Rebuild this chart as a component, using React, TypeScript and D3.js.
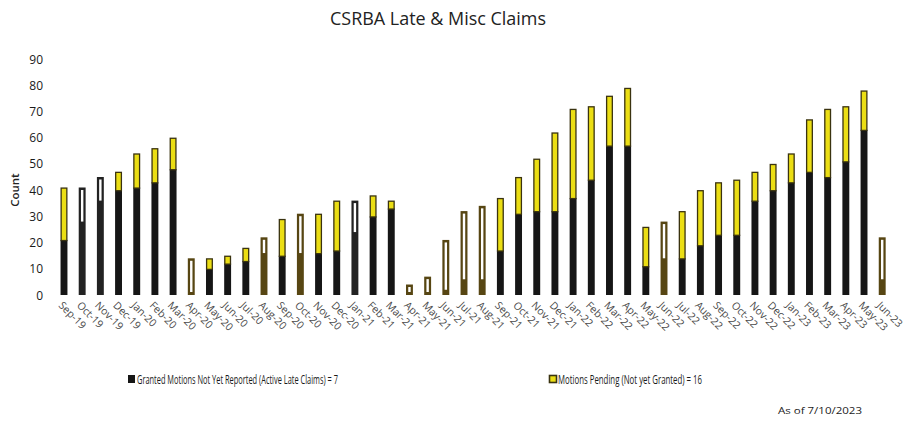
import React from "react";
import * as d3 from "d3";

const months = [
  "Sep-19","Oct-19","Nov-19","Dec-19","Jan-20","Feb-20","Mar-20","Apr-20","May-20","Jun-20",
  "Jul-20","Aug-20","Sep-20","Oct-20","Nov-20","Dec-20","Jan-21","Feb-21","Mar-21","Apr-21",
  "May-21","Jun-21","Jul-21","Aug-21","Sep-21","Oct-21","Nov-21","Dec-21","Jan-22","Feb-22",
  "Mar-22","Apr-22","May-22","Jun-22","Jul-22","Aug-22","Sep-22","Oct-22","Nov-22","Dec-22",
  "Jan-23","Feb-23","Mar-23","Apr-23","May-23","Jun-23",
];

// Granted Motions Not Yet Reported (Active Late Claims)
const granted = [
  21, 28, 36, 40, 41, 43, 48, 0, 10, 12,
  13, 16, 15, 16, 16, 17, 24, 30, 33, 0,
  0, 2, 6, 6, 17, 31, 32, 32, 37, 44,
  57, 57, 11, 14, 14, 19, 23, 23, 36, 40,
  43, 47, 45, 51, 63, 6,
];

// Motions Pending (Not yet Granted)
const pending = [
  20, 13, 9, 7, 13, 13, 12, 14, 4, 3,
  5, 6, 14, 15, 15, 19, 12, 8, 3, 4,
  7, 19, 26, 28, 20, 14, 20, 30, 34, 28,
  19, 22, 15, 14, 18, 21, 20, 21, 11, 10,
  11, 20, 26, 21, 15, 16,
];

// Months whose bars came out faded/hollow in the scanned original
const hollowDark = ["Oct-19", "Nov-19", "Jan-21"];
const hollowOlive = ["Apr-20", "Aug-20", "Oct-20", "Apr-21", "May-21", "Jun-21", "Jul-21", "Aug-21", "Jun-22", "Jun-23"];

const yTicks = [0, 10, 20, 30, 40, 50, 60, 70, 80, 90];

const legendGranted = "Granted Motions Not Yet Reported (Active Late Claims) = 7";
const legendPending = "Motions Pending  (Not yet Granted) = 16";
const title = "CSRBA Late & Misc Claims";
const asOf = "As of 7/10/2023";

const W = 913;
const H = 425;
const FONT = "'Open Sans', 'Noto Sans', 'Liberation Sans', sans-serif";

const BLACK = "#161616";
const YELLOW = "#ebde14";
const OUTLINE = "#3a3310";
const OLIVE = "#574613";

export default function App() {
  const x = d3.scaleBand<string>().domain(months).range([54.9, 891.3]).paddingInner(0.62).paddingOuter(0.31);
  const y = d3.scaleLinear().domain([0, 90]).range([295, 59]);
  const bw = x.bandwidth();

  return (
    <svg width={W} height={H} style={{ position: "absolute", left: 0, top: 0, background: "#fff" }}>
      <rect width={W} height={H} fill="#fff" />
      <text x={438} y={25} textAnchor="middle" fontFamily={FONT} fontSize={18} fill="#222" textLength={216} lengthAdjust="spacingAndGlyphs">
        {title}
      </text>

      {yTicks.map((t) => (
        <text key={t} x={43} y={y(t) + 4.5} textAnchor="end" fontFamily={FONT} fontSize={12} fill="#1a1a1a">
          {t}
        </text>
      ))}
      <text transform={`translate(19,${y(40)}) rotate(-90)`} textAnchor="middle" fontFamily={FONT} fontSize={11.5} fontWeight={600} fill="#222">
        Count
      </text>

      {months.map((m, i) => {
        const cx = x(m)!;
        const g = granted[i];
        const p = pending[i];
        const yBase = y(0);
        const yG = y(g);
        const yT = y(g + p);
        const isDark = hollowDark.includes(m);
        const isOlive = hollowOlive.includes(m);
        if (isDark || isOlive) {
          const base = isDark ? "#222" : OLIVE;
          const slitTop = yT + 2.5;
          const slitBot = Math.min(yG, yBase - 3);
          return (
            <g key={m}>
              <rect x={cx} y={yT} width={bw} height={yBase - yT} fill={base} />
              {slitBot - slitTop > 1 && (
                <rect x={cx + bw / 2 - 1.2} y={slitTop} width={2.4} height={slitBot - slitTop} fill="#fff" />
              )}
            </g>
          );
        }
        return (
          <g key={m}>
            <rect x={cx} y={yG} width={bw} height={yBase - yG} fill={BLACK} />
            {p > 0 && (
              <rect x={cx + 0.6} y={yT + 0.6} width={bw - 1.2} height={yG - yT} fill={YELLOW} stroke={OUTLINE} strokeWidth={1.3} />
            )}
          </g>
        );
      })}

      {months.map((m) => {
        const cx = x(m)! + bw / 2;
        return (
          <text key={m} transform={`translate(${cx - 6},${306}) rotate(45)`} textAnchor="start" fontFamily={FONT} fontSize={10.5} fill="#4a4a4a">
            {m}
          </text>
        );
      })}

      <rect x={128} y={375} width={7} height={8} fill={BLACK} />
      <text x={137} y={383.5} fontFamily={FONT} fontSize={12.5} fill="#1a1a1a" textLength={201} lengthAdjust="spacingAndGlyphs">
        {legendGranted}
      </text>
      <rect x={549.5} y={375.5} width={7} height={7} fill={YELLOW} stroke={OUTLINE} strokeWidth={1.6} />
      <text x={558} y={383.5} fontFamily={FONT} fontSize={12.5} fill="#1a1a1a" textLength={144} lengthAdjust="spacingAndGlyphs">
        {legendPending}
      </text>
      <text x={778} y={414} fontFamily={FONT} fontSize={9.5} fill="#1a1a1a" textLength={84} lengthAdjust="spacingAndGlyphs">
        {asOf}
      </text>
    </svg>
  );
}
